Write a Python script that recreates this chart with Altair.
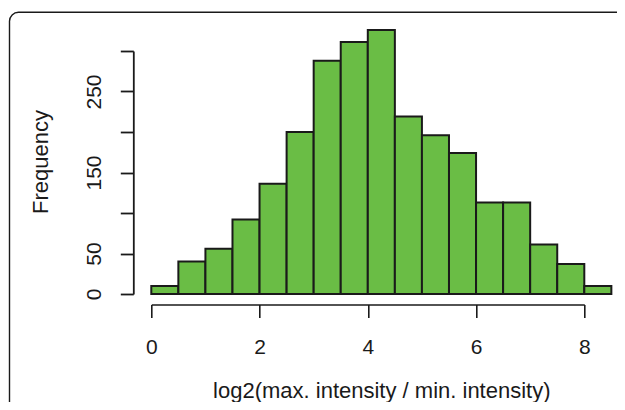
import altair as alt
import pandas as pd

# Histogram data (bins of width 0.5)
bin_starts = [0.0, 0.5, 1.0, 1.5, 2.0, 2.5, 3.0, 3.5, 4.0, 4.5, 5.0, 5.5, 6.0, 6.5, 7.0, 7.5, 8.0]
bin_ends = [0.5, 1.0, 1.5, 2.0, 2.5, 3.0, 3.5, 4.0, 4.5, 5.0, 5.5, 6.0, 6.5, 7.0, 7.5, 8.0, 8.5]
counts = [10, 40, 56, 92, 136, 200, 288, 311, 326, 219, 196, 174, 113, 113, 61, 37, 10]

x_ticks = [0, 2, 4, 6, 8]
y_ticks = [0, 50, 100, 150, 200, 250, 300]
y_tick_labels = ["0", "50", "", "150", "", "250", ""]

x_title = "log2(max. intensity / min. intensity)"
y_title = "Frequency"

df = pd.DataFrame({"start": bin_starts, "end": bin_ends, "count": counts})

label_map = "{" + ",".join(f"'{v}':'{l}'" for v, l in zip(y_ticks, y_tick_labels)) + "}"
y_label_expr = f"{label_map}[datum.value + '']"

FONT = "Liberation Sans"
INK = "#1a1a1a"

x_axis = alt.Axis(
    values=x_ticks, orient="bottom", offset=10.5, grid=False,
    domainColor=INK, domainWidth=1.6, tickColor=INK, tickWidth=1.6, tickSize=13,
    labelFont=FONT, labelFontSize=21, labelColor=INK, labelBaseline="alphabetic",
    labelPadding=35.7, labelOverlap=False, labelFlush=False,
    title=x_title, titleFont=FONT, titleFontSize=22, titleFontWeight="normal",
    titleColor=INK, titleX=230, titleY=92.5, titleAlign="center",
    titleBaseline="alphabetic", titleAngle=0,
)

y_axis = alt.Axis(
    values=y_ticks, orient="left", offset=18, grid=False,
    domainColor=INK, domainWidth=1.8, tickColor=INK, tickWidth=1.8, tickSize=13,
    labelFont=FONT, labelFontSize=21, labelColor=INK, labelAngle=270,
    labelAlign="center", labelBaseline="alphabetic", labelPadding=19.5,
    labelOverlap=False, labelFlush=False, labelExpr=y_label_expr,
    title=y_title, titleFont=FONT, titleFontSize=22, titleFontWeight="normal",
    titleColor=INK, titleX=-86.3, titleY=110.5, titleAngle=270,
    titleAlign="center", titleBaseline="alphabetic",
)

bars = alt.Chart(df).mark_rect(
    fill="#6abd45", stroke=INK, strokeWidth=2
).encode(
    x=alt.X("start:Q", scale=alt.Scale(domain=[0, 8], nice=False, zero=False), axis=x_axis),
    x2="end:Q",
    y=alt.Y("count:Q", scale=alt.Scale(domain=[0, 300], nice=False), axis=y_axis),
    y2=alt.datum(0),
)

frame = alt.Chart(alt.Data(values=[{"a": 1}])).mark_rect(
    fill="transparent", stroke=INK, strokeWidth=1.4, cornerRadius=9
).encode(
    x=alt.value(-141.8), x2=alt.value(480),
    y=alt.value(-38.7), y2=alt.value(370),
)

chart = alt.layer(frame, bars).properties(
    width=433, height=243,
    autosize="none",
    background="white",
    padding={"left": 143.3, "top": 43, "right": 32.7, "bottom": 108},
).configure_view(strokeWidth=0, stroke="transparent")

chart.save("out.html", embed_options={"renderer": "svg", "actions": False})
